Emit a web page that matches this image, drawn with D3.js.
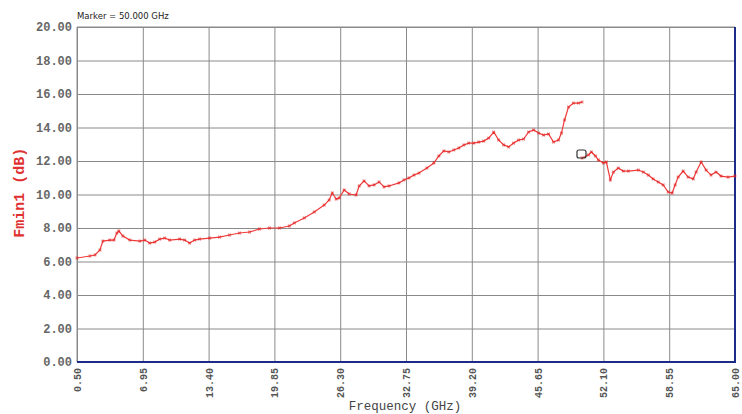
<!DOCTYPE html>
<html>
<head>
<meta charset="utf-8">
<script src="https://cdn.jsdelivr.net/npm/d3@7"></script>
<style>
  body { margin: 0; background: #fff; }
  .tick text { font-family: "Liberation Mono", "DejaVu Sans Mono", monospace; }
</style>
</head>
<body>
<div id="chart"></div>
<script>
// band 1 trace (GHz, dB)
var freq1 = [0.5, 1.77, 2.26, 2.75, 3.04, 3.72, 4.12, 4.41, 4.60, 5.00, 5.68, 6.66, 7.15, 7.63, 8.12, 8.61, 9.10, 9.59,
    10.57, 11.05, 11.54, 12.03, 12.52, 13.50, 14.47, 15.45, 16.43, 17.41, 18.38, 19.36, 20.34, 21.31, 21.80, 22.78,
    23.76, 24.73, 25.22, 25.52, 25.91, 26.20, 26.69, 27.18, 27.86, 28.16, 28.64, 29.13, 29.62, 30.11, 30.60, 31.09,
    32.06, 32.55, 33.04, 33.53, 34.02, 34.80, 35.48, 35.97, 36.46, 36.95, 37.44, 37.93, 38.42, 38.90, 39.39, 39.88,
    40.37, 40.86, 41.35, 41.84, 42.33, 42.81, 43.30, 43.79, 44.28, 44.77, 45.26, 45.75, 46.23, 46.72, 47.21, 47.70,
    47.99, 48.29, 48.68, 49.17, 49.66, 50.0];
var fmin1 = [6.21, 6.33, 6.39, 6.69, 7.22, 7.28, 7.28, 7.70, 7.82, 7.52, 7.28, 7.22, 7.28, 7.10, 7.16, 7.34, 7.40, 7.28,
    7.34, 7.28, 7.10, 7.28, 7.34, 7.40, 7.46, 7.58, 7.70, 7.76, 7.94, 8.00, 8.00, 8.12, 8.30, 8.60,
    8.96, 9.37, 9.67, 10.09, 9.73, 9.79, 10.27, 10.03, 9.97, 10.51, 10.81, 10.51, 10.57, 10.75, 10.45, 10.51,
    10.69, 10.87, 10.99, 11.16, 11.28, 11.58, 11.88, 12.30, 12.60, 12.54, 12.66, 12.78, 12.96, 13.07, 13.07, 13.13,
    13.19, 13.37, 13.73, 13.25, 12.96, 12.84, 13.07, 13.25, 13.31, 13.73, 13.85, 13.67, 13.55, 13.61, 13.13, 13.25,
    13.67, 14.45, 15.22, 15.46, 15.46, 15.52];

// band 2 trace
var freq2 = [50.0, 50.63, 50.92, 51.32, 51.61, 52.10, 52.39, 52.78, 53.08, 53.56, 54.05, 54.54, 55.52, 56.01, 56.50,
    56.98, 57.47, 57.96, 58.45, 58.84, 59.13, 59.43, 59.92, 60.41, 60.90, 61.19, 61.68, 62.17, 62.65, 63.14, 63.63,
    64.32, 65.0];
var fmin2 = [12.18, 12.36, 12.54, 12.30, 12.06, 11.88, 11.94, 10.87, 11.34, 11.58, 11.40, 11.40, 11.46, 11.34, 11.16,
    10.93, 10.75, 10.57, 10.15, 10.09, 10.57, 11.04, 11.40, 11.04, 10.93, 11.34, 11.94, 11.46, 11.16, 11.34, 11.10,
    11.04, 11.10];

var xTicks = [0.50, 6.95, 13.40, 19.85, 26.30, 32.75, 39.20, 45.65, 52.10, 58.55, 65.00];
var yTicks = [0, 2, 4, 6, 8, 10, 12, 14, 16, 18, 20];
var markerFreq = 50.0, markerVal = 12.3;

var W = 742, H = 414;
var margin = {top: 27, right: 7, bottom: 52, left: 77};
var width = W - margin.left - margin.right;
var height = H - margin.top - margin.bottom;

var svg = d3.select("#chart").append("svg")
    .attr("width", W).attr("height", H);

var g = svg.append("g")
    .attr("transform", "translate(" + margin.left + "," + margin.top + ")");

var x = d3.scaleLinear().domain([0.5, 65]).range([0, width]);
var y = d3.scaleLinear().domain([0, 20]).range([height, 0]);

// grid
g.append("g")
    .attr("class", "grid")
    .attr("transform", "translate(0," + height + ")")
    .call(d3.axisBottom(x).tickValues(xTicks).tickSize(-height).tickFormat(""))
    .call(function(s) { s.select(".domain").remove(); })
    .selectAll("line").attr("stroke", "#8a8a8a");

g.append("g")
    .attr("class", "grid")
    .call(d3.axisLeft(y).tickValues(yTicks).tickSize(-width).tickFormat(""))
    .call(function(s) { s.select(".domain").remove(); })
    .selectAll("line").attr("stroke", "#8a8a8a");

// frame: top/left grey, bottom/right navy
g.append("line").attr("x1", 0).attr("x2", width).attr("y1", 0).attr("y2", 0)
    .attr("stroke", "#8a8a8a");
g.append("line").attr("x1", 0).attr("x2", 0).attr("y1", 0).attr("y2", height)
    .attr("stroke", "#8a8a8a");
g.append("line").attr("x1", 0).attr("x2", width + 1).attr("y1", height).attr("y2", height)
    .attr("stroke", "#1c2a8a").attr("stroke-width", 2);
g.append("line").attr("x1", width).attr("x2", width).attr("y1", 0).attr("y2", height)
    .attr("stroke", "#1c2a8a").attr("stroke-width", 2);

// y tick labels
var yAxis = g.append("g")
    .call(d3.axisLeft(y).tickValues(yTicks).tickSize(0).tickPadding(5)
        .tickFormat(function(d) { return d3.format(".2f")(d); }));
yAxis.select(".domain").remove();
yAxis.selectAll("text")
    .attr("fill", "#666")
    .attr("font-size", 12)
    .attr("font-weight", "bold");

// x tick labels, rotated
var xAxis = g.append("g")
    .attr("transform", "translate(0," + height + ")")
    .call(d3.axisBottom(x).tickValues(xTicks).tickSize(0)
        .tickFormat(function(d) { return d3.format(".2f")(d); }));
xAxis.select(".domain").remove();
xAxis.selectAll("text")
    .attr("fill", "#555")
    .attr("font-size", 10)
    .attr("font-weight", "bold")
    .attr("text-anchor", "end")
    .attr("transform", "rotate(-90)")
    .attr("x", -6)
    .attr("y", 0)
    .attr("dy", "0.35em");

// titles
svg.append("text")
    .attr("x", margin.left).attr("y", 19)
    .attr("font-family", "'DejaVu Sans', sans-serif")
    .attr("font-size", 8.5)
    .attr("fill", "#222")
    .text("Marker = 50.000 GHz");

svg.append("text")
    .attr("transform", "translate(24," + (margin.top + y(10.1)) + ") rotate(-90)")
    .attr("text-anchor", "middle")
    .attr("font-family", "'Liberation Mono', monospace")
    .attr("font-size", 15)
    .attr("font-weight", "bold")
    .attr("fill", "#e03030")
    .text("Fmin1 (dB)");

svg.append("text")
    .attr("x", 405).attr("y", 410)
    .attr("text-anchor", "middle")
    .attr("font-family", "'Liberation Mono', monospace")
    .attr("font-size", 12.5)
    .attr("fill", "#444")
    .text("Frequency (GHz)");

// traces
var line = d3.line()
    .x(function(d) { return x(d[0]); })
    .y(function(d) { return y(d[1]); });

[d3.zip(freq1, fmin1), d3.zip(freq2, fmin2)].forEach(function(data) {
    g.append("path")
        .datum(data)
        .attr("fill", "none")
        .attr("stroke", "#f03a3a")
        .attr("stroke-width", 1.2)
        .attr("d", line);

    g.selectAll(null)
        .data(data)
        .enter().append("path")
        .attr("transform", function(d) { return "translate(" + x(d[0]) + "," + y(d[1]) + ") rotate(45)"; })
        .attr("d", d3.symbol().type(d3.symbolCross).size(8))
        .attr("fill", "#e02020")
        .attr("opacity", 0.6);
});

// marker symbol
g.append("rect")
    .attr("x", x(markerFreq) - 5).attr("y", y(markerVal) - 6)
    .attr("width", 9).attr("height", 8)
    .attr("rx", 2)
    .attr("fill", "none")
    .attr("stroke", "#333")
    .attr("stroke-width", 1.2);
</script>
</body>
</html>
